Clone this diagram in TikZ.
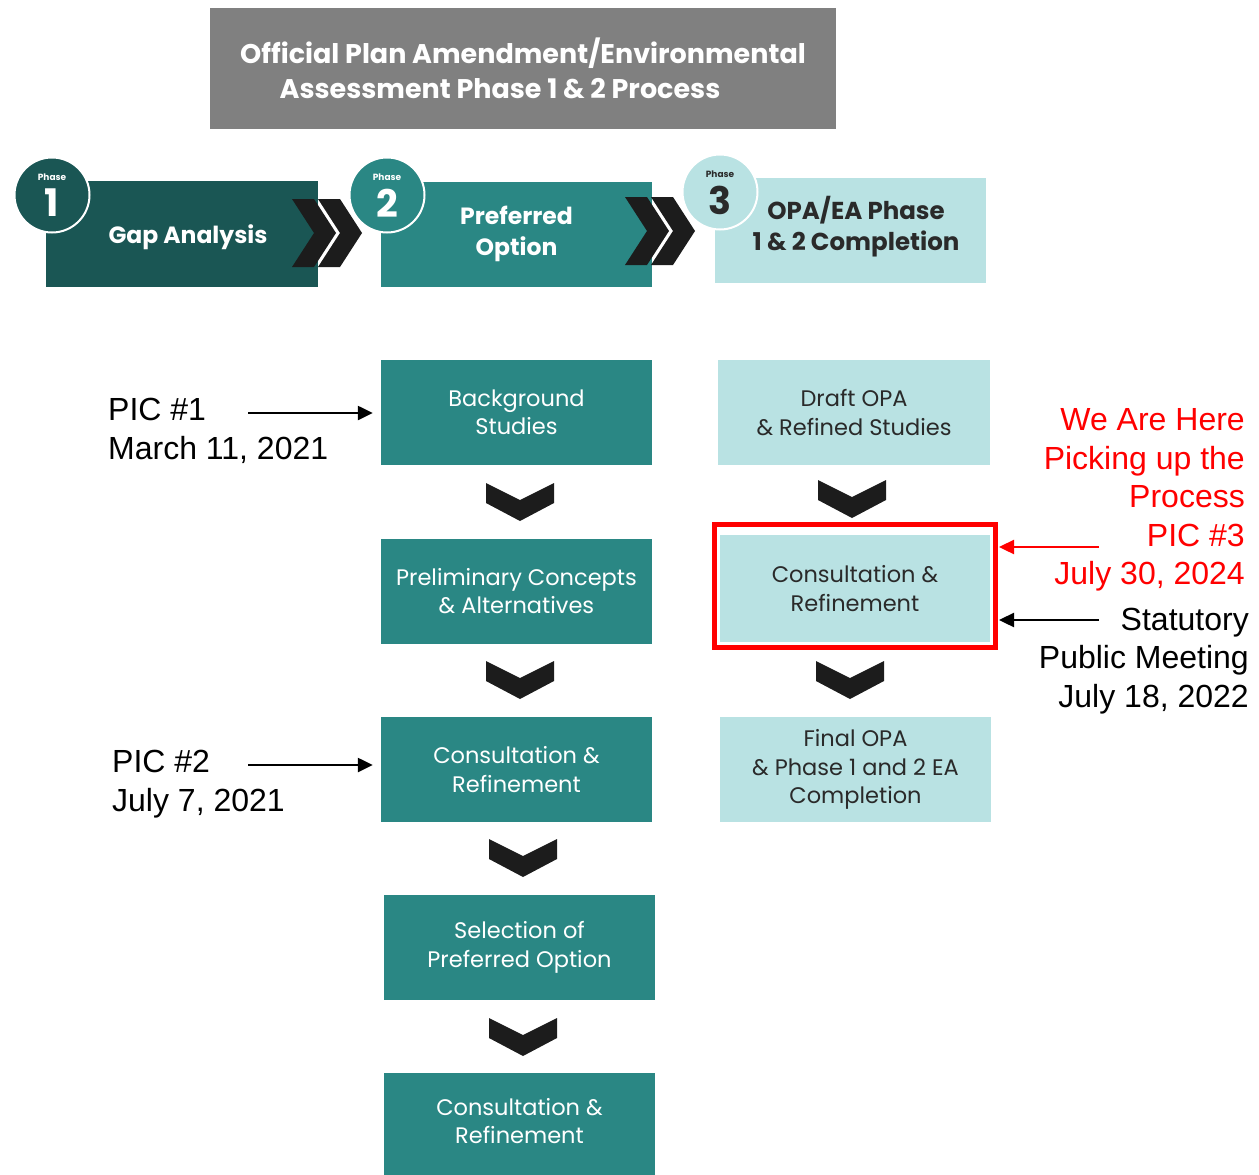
\documentclass[tikz,border=0pt]{standalone}
\usepackage{fontspec}
\setmainfont{Liberation Sans}
\newfontfamily\gothic{Poppins}
\usetikzlibrary{arrows.meta}
\definecolor{dkteal}{HTML}{1A5654}
\definecolor{tealb}{HTML}{2A8784}
\definecolor{lteal}{HTML}{B9E2E3}
\definecolor{ttlgray}{HTML}{808080}
\definecolor{dtext}{HTML}{2A2A2A}
\definecolor{chev}{HTML}{1C1C1C}
\newcommand\dchev[2]{\fill[chev] (#1-34,#2) -- (#1,#2+17) -- (#1+34,#2) -- (#1+34,#2+20) -- (#1,#2+38) -- (#1-34,#2+20) -- cycle;}
\newcommand\rchev[2]{\fill[chev] (#1,#2) -- (#1+22,#2) -- (#1+44,#2+34) -- (#1+22,#2+68) -- (#1,#2+68) -- (#1+22,#2+34) -- cycle;}
\begin{document}
\begin{tikzpicture}[x=1pt,y=-1pt,
  stepbox/.style={rectangle, minimum width=271pt, minimum height=105pt, inner sep=0pt, align=center,
    font=\gothic\fontsize{22.5}{28.5}\selectfont},
  darkbox/.style={stepbox, fill=tealb, text=white},
  lightbox/.style={stepbox, fill=lteal, text=dtext},
  phasebox/.style={stepbox, font=\gothic\bfseries\fontsize{23.5}{31}\selectfont},
  phasecirc/.style={circle, minimum size=75pt, inner sep=0pt, draw=white, line width=2pt, align=center},
  note/.style={font=\fontsize{32}{38.5}\selectfont, inner sep=0pt},
  arr/.style={line width=2.4pt, -{Triangle[length=15pt,width=14pt]}}
]
\useasboundingbox[fill=white] (0,0) rectangle (1259,1175);

% title
\node[rectangle, fill=ttlgray, minimum width=626pt, minimum height=121pt, inner sep=0pt, align=center,
  text=white, font=\gothic\bfseries\fontsize{27}{35}\selectfont] (title) at (523,68)
  {Official Plan Amendment/Environmental\\Assessment Phase 1 \& 2 Process\hspace*{46pt}};

% phase boxes
\node[phasebox, fill=dkteal, text=white, minimum width=272pt, minimum height=106pt] (p1) at (182,234) {};
\node[font=\gothic\bfseries\fontsize{23.5}{31}\selectfont, text=white] (p1t) at (188,237) {Gap Analysis};
\node[phasebox, fill=tealb, text=white] (p2) at (516.5,234) {Preferred\\Option};
\node[phasebox, fill=lteal, text=dtext] (p3) at (850,230.5) {};
\node[font=\gothic\bfseries\fontsize{24.5}{31}\selectfont, text=dtext, align=center] (p3t) at (856,227) {OPA/EA Phase\\1 \& 2 Completion};

\rchev{292}{199}
\rchev{318}{199}
\rchev{625}{197}
\rchev{651}{197}

% phase circles
\node[phasecirc, fill=dkteal, text=white] (c1) at (52,195) {};
\node[phasecirc, fill=tealb, text=white] (c2) at (387,195) {};
\node[phasecirc, fill=lteal, text=dtext] (c3) at (720,192) {};
\foreach \c/\n/\col in {c1/1/white, c2/2/white, c3/3/dtext}{
  \node[text=\col, font=\gothic\bfseries\fontsize{9}{9}\selectfont, inner sep=0pt] (\c ph) at ([yshift=18pt]\c.center) {Phase};
  \node[text=\col, font=\gothic\bfseries\fontsize{38}{38}\selectfont, inner sep=0pt] (\c num) at ([yshift=-8pt]\c.center) {\n};
}

% left column
\node[darkbox] (b1) at (516.5,412.5) {Background\\Studies};
\node[darkbox] (b2) at (516.5,591) {Preliminary Concepts\\\& Alternatives};
\node[darkbox] (b3) at (516.5,769.5) {Consultation \&\\Refinement};
\node[darkbox] (b4) at (519.5,947.5) {Selection of\\Preferred Option};
\node[darkbox, minimum height=106pt] (b5) at (519.5,1126) {};
\node[text=white, font=\gothic\fontsize{22.5}{28.5}\selectfont, align=center] (b5t) at (519.5,1121) {Consultation \&\\Refinement};

\dchev{520}{483}
\dchev{520}{661}
\dchev{523}{839}
\dchev{523}{1018}

% right column
\node[lightbox, minimum width=272pt] (r1) at (854,412.5) {Draft OPA\\\& Refined Studies};
\node[lightbox, minimum width=270pt, minimum height=107pt] (r2) at (855,588.5) {Consultation \&\\Refinement};
\node[rectangle, draw=red, line width=5pt, minimum width=281pt, minimum height=123pt, inner sep=0pt] (here) at (855,586) {};
\node[lightbox, minimum width=271pt] (r3) at (855.5,769.5) {Final OPA\\\& Phase 1 and 2 EA\\Completion};

\dchev{852}{480}
\dchev{850}{661}

% annotations left
\node[note, anchor=west, align=left] (pic1) at (108,431) {PIC \#1\\March 11, 2021};
\coordinate (a1) at (248,413);
\draw[arr] (a1) -- ([xshift=-8pt]b1.west |- a1);
\node[note, anchor=west, align=left] (pic2) at (112,784) {PIC \#2\\July 7, 2021};
\coordinate (a2) at (248,765);
\draw[arr] (a2) -- ([xshift=-8pt]b3.west |- a2);

% annotations right
\node[note, anchor=east, align=right, text=red] (here t) at (1245,500)
  {We Are Here\\Picking up the\\Process\\PIC \#3\\July 30, 2024};
\coordinate (a3) at (1099,547);
\draw[arr, red] (a3) -- ([xshift=1pt]here.east |- a3);
\node[note, anchor=east, align=right] (stat) at (1249,661) {Statutory\\Public Meeting\\July 18, 2022};
\coordinate (a4) at (1099,620);
\draw[arr] (a4) -- ([xshift=1pt]here.east |- a4);
\end{tikzpicture}
\end{document}
